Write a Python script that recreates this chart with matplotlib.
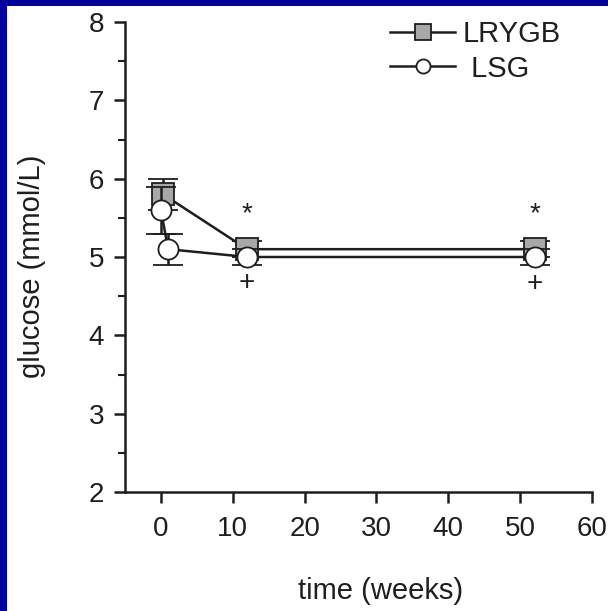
import matplotlib
matplotlib.use('Agg')
import matplotlib.pyplot as plt
from matplotlib.patches import Rectangle
from matplotlib.lines import Line2D
from matplotlib.ticker import MultipleLocator

plt.rcParams['font.family'] = ['Liberation Sans', 'DejaVu Sans']

# fasting glucose, mean +- sem
weeks_rygb = [0.3, 12, 52]
glucose_rygb = [5.8, 5.1, 5.1]
err_rygb = [0.2, 0.1, 0.1]

weeks_lsg = [0, 1, 12, 52]
glucose_lsg = [5.6, 5.1, 5.0, 5.0]
err_lsg = [0.3, 0.2, 0.1, 0.1]

# significance marks (x, y, symbol)
sig_weeks = [12, 12, 52, 52]
sig_y = [5.55, 4.67, 5.54, 4.66]
sig_txt = ['*', '+', '*', '+']

ink = '#1e1e1e'
fs = 20

fig = plt.figure(figsize=(6.08, 6.11), dpi=100, facecolor='#00009c')
# white slide panel, kept behind the axes
fig.patches.append(Rectangle((7/608, 0), 1 - 7/608, 1 - 6/611,
	transform=fig.transFigure, facecolor='white', edgecolor='none', zorder=-10))

ax = fig.add_axes([125/608, 1 - 492/611, 467/608, 470/611])
ax.set_facecolor('none')

sq = dict(marker='s', mfc='#a8a8a8', mec=ink, mew=1.3, ms=16)
ci = dict(marker='o', mfc='white', mec=ink, mew=1.3, ms=14.5)

ax.errorbar(weeks_rygb, glucose_rygb, yerr=err_rygb, ls='-', color=ink, lw=1.8,
	elinewidth=1.8, capsize=11, capthick=1.8, zorder=3, **sq)
ax.errorbar(weeks_lsg, glucose_lsg, yerr=err_lsg, ls='-', color=ink, lw=1.8,
	elinewidth=1.8, capsize=11, capthick=1.8, zorder=4, **ci)

for x, y, s in zip(sig_weeks, sig_y, sig_txt):
	ax.text(x, y, s, ha='center', va='center', fontsize=fs, color=ink)

ax.set_xlim(-5, 60)
ax.set_ylim(2, 8)
ax.set_xticks(range(0, 61, 10))
ax.set_yticks(range(2, 9))
ax.yaxis.set_minor_locator(MultipleLocator(0.5))

for side in ['top', 'right']:
	ax.spines[side].set_visible(False)
for side in ['left', 'bottom']:
	ax.spines[side].set_linewidth(1.8)
	ax.spines[side].set_color(ink)

ax.tick_params(axis='both', which='major', direction='out', length=8, width=1.8,
	labelsize=fs, colors=ink)
ax.tick_params(axis='x', which='major', pad=9)
ax.tick_params(axis='y', which='major', pad=7)
ax.tick_params(axis='y', which='minor', direction='out', length=5, width=1.5, colors=ink)

ax.set_ylabel('glucose (mmol/L)', fontsize=21, color=ink)
ax.set_xlabel('time (weeks)', fontsize=21, color=ink)
ax.yaxis.set_label_coords(-0.2, 0.48)
ax.xaxis.set_label_coords(0.547, -0.21)
ax.xaxis.label.set_va('center')
ax.yaxis.label.set_va('center')

# legend keys: line with marker only, no error bars
handles = [Line2D([], [], color=ink, lw=1.8, **sq),
	Line2D([], [], color=ink, lw=1.8, **ci)]
leg = ax.legend(handles, ['LRYGB', ' LSG'], loc='upper left',
	bbox_to_anchor=(0.567, 1.004), frameon=False, fontsize=21, markerscale=0.7,
	handlelength=2.25, handletextpad=0.25, labelspacing=0.22, borderpad=0,
	borderaxespad=0)
for t in leg.get_texts():
	t.set_color(ink)

fig.savefig('out.png', dpi=100, facecolor=fig.get_facecolor())
